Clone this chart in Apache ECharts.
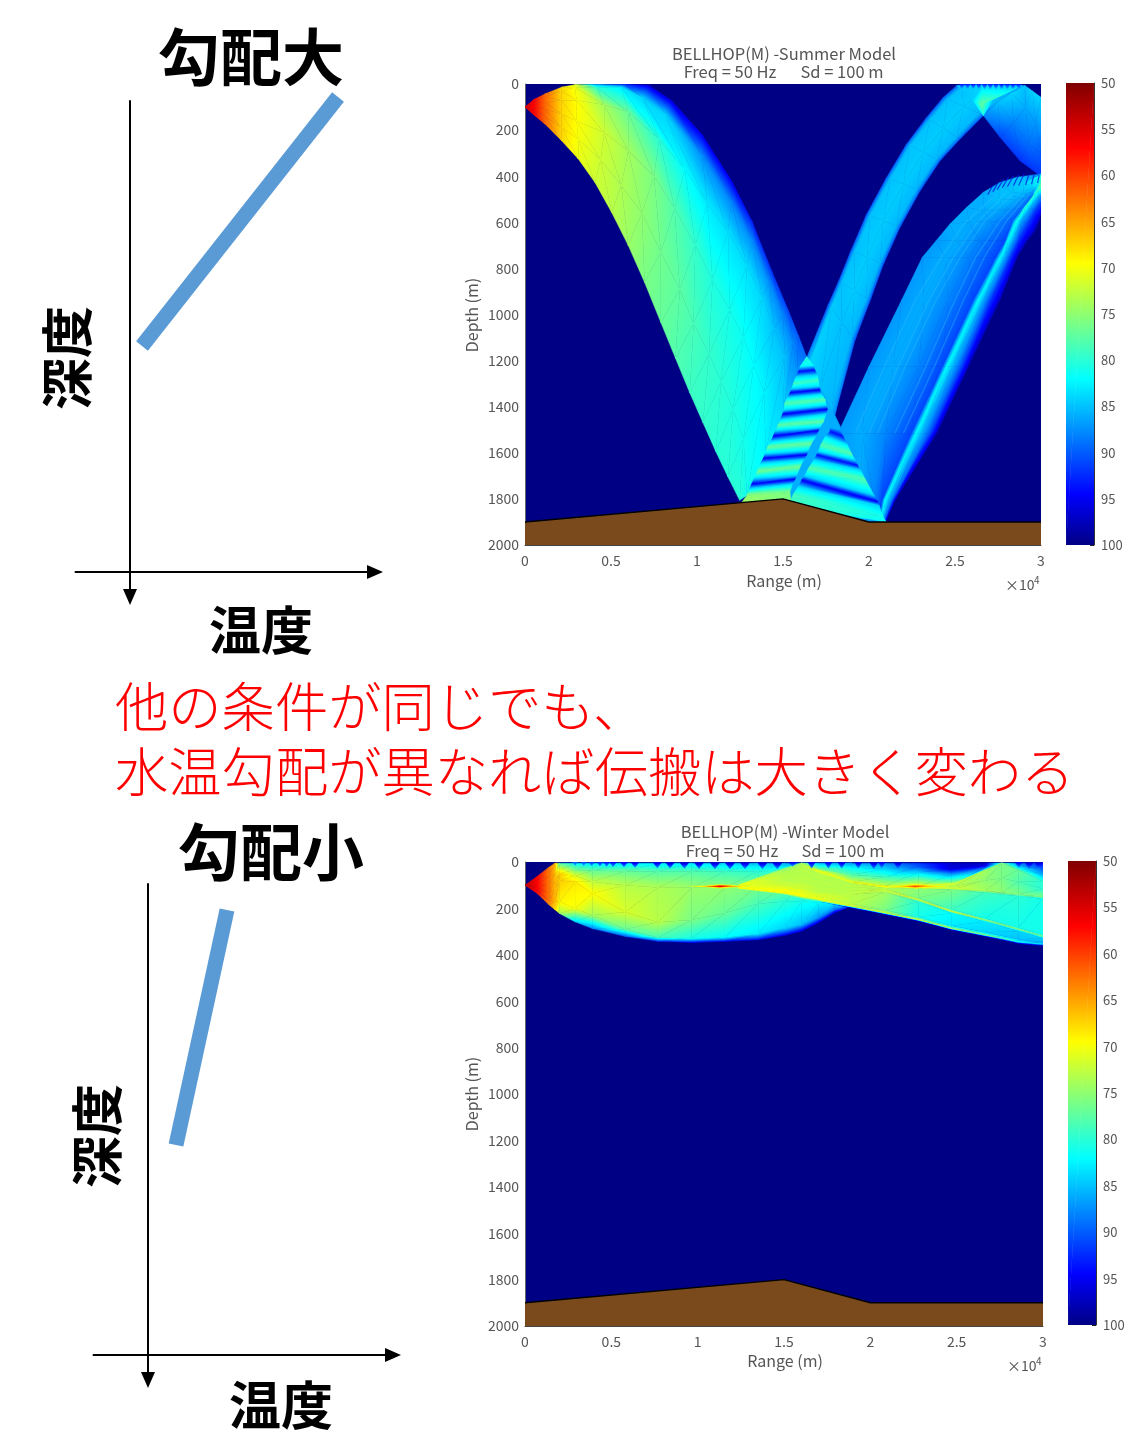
<!DOCTYPE html>
<html><head><meta charset="utf-8">
<style>html,body{margin:0;padding:0;background:#fff}#c{width:1147px;height:1451px}</style>
<script src="https://cdn.jsdelivr.net/npm/echarts@6/dist/echarts.min.js"></script>
</head><body><div id="c"></div>
<script>
// Tick labels
const depthTicks=[0,200,400,600,800,1000,1200,1400,1600,1800,2000];
const rangeLabels={0:'0',0.5:'0.5',1:'1',1.5:'1.5',2:'2',2.5:'2.5',3:'3'};
const bathyRange=[0,1.5,2,3];
const bathyDepth=[1900,1800,1900,1900];
const colorbarMesh=[[[0,50,50],[1,50,50]],[[0,100,100],[1,100,100]]];
// Transmission-loss meshes: rows of [range(1e4 m), depth(m), TL(dB)]
const summerDown=[
[[0,100,54],[0,100,54],[0,100,54],[0,100,54],[0,100,54],[0,100,54]],
[[.05,133,57],[.05,115,57],[.05,100,57],[.05,85,57],[.05,75,57],[.05,68,57]],
[[.116,174,62],[.116,140,62],[.116,110,62],[.116,80,62],[.116,55,62],[.116,43,62]],
[[.213,246,67.5],[.213,190,67.5],[.213,130,67.5],[.213,70,67.5],[.213,30,67.5],[.213,14,68]],
[[.31,325,70.5],[.31,240,70],[.3,160,69.5],[.3,70,69.5],[.29,15,70],[.29,3,71]],
[[.407,427,72],[.44,330,72],[.46,210,72],[.46,90,74],[.42,15,80],[.42,2,86]],
[[.504,557,73],[.56,440,73.5],[.6,290,74],[.6,120,77],[.56,14,83],[.58,2,92]],
[[.6,700,74.5],[.68,560,75],[.75,400,76],[.78,240,80],[.68,58,84],[.72,5,96]],
[[.695,860,76],[.79,730,76.5],[.87,540,78],[.93,370,82],[.814,130,84],[.853,72,96]],
[[.79,1035,77],[.9,890,77.5],[.99,700,79.5],[1.06,520,83],[1.03,310,87.5],[1.03,220,95]],
[[.875,1190,78],[.98,1040,78.5],[1.09,850,80.5],[1.18,640,83.5],[1.2,510,88],[1.2,419,95]],
[[.958,1340,79],[1.07,1170,79.5],[1.19,980,81],[1.29,790,83.5],[1.32,680,87.5],[1.318,593,93]],
[[1.035,1470,79.5],[1.14,1290,80],[1.27,1100,81.5],[1.38,930,84],[1.42,860,87.5],[1.434,810,92]],
[[1.11,1595,80],[1.21,1410,80.5],[1.33,1220,82],[1.45,1060,85],[1.5,1000,88],[1.531,983,91]],
[[1.18,1705,80],[1.27,1540,81],[1.39,1340,82.5],[1.51,1180,85],[1.56,1120,88],[1.59,1092,90]],
[[1.248,1806,80],[1.29,1785,81],[1.40,1600,82.5],[1.5,1430,84],[1.58,1265,87],[1.638,1187,89]]];
const summerFringeBase=[[[1.638,1183,86],[1.638,1183,86]],[[1.24,1900,86],[2.1,1900,86]]];
const summerUp=[
[[1.638,1187,88],[1.654,1212,84],[1.719,1313,85],[1.784,1415,85.5],[1.80,1440,88]],
[[1.765,954,90],[1.78,970,84.5],[1.84,1032,85],[1.90,1095,85.5],[1.919,1110,90]],
[[1.825,853,90],[1.84,862,85],[1.915,897,84.5],[1.987,931,85.5],[2.006,940,90]],
[[1.895,723,90],[1.915,729,85],[1.99,752,84.5],[2.065,775,85.5],[2.084,781,90]],
[[1.987,564,90],[2.006,570,85],[2.083,593,84.5],[2.16,616,85.5],[2.18,622,90]],
[[2.103,405,90],[2.122,411,85],[2.2,434,84.5],[2.278,457,85.5],[2.297,463,90]],
[[2.219,260,90],[2.238,267,85],[2.316,296,84.5],[2.394,326,85.5],[2.413,333,90]],
[[2.335,145,90],[2.354,154,85],[2.432,192,84.5],[2.51,230,85.5],[2.529,239,90]],
[[2.432,58,90],[2.455,66,85],[2.55,97,84.5],[2.642,129,85.5],[2.665,137,90]],
[[2.51,7,90],[2.539,13,85],[2.655,40,84.5],[2.771,65,85.5],[2.8,72,90]],
[[2.62,0,88],[2.65,0,85],[2.76,3,84.5],[2.88,6,85.5],[2.907,7,88]]];
const summerSurfaceDown=[
[[2.665,137,88],[2.75,80,85],[2.83,40,84],[2.907,7,85]],
[[2.762,231,91],[2.84,170,88],[2.91,100,86],[2.95,30,84]],
[[2.878,333,92],[2.93,260,89],[2.97,170,87],[3,58,84]],
[[3,400,92],[3,300,90],[3,190,87],[3,58,85]]];
const summerGreenPatch=[
[[2.51,7,85],[2.66,7,84],[2.89,7,85]],
[[2.6,70,84.5],[2.655,90,77],[2.72,70,84.5]],
[[2.665,137,81],[2.665,137,81],[2.665,137,81]]];
const summerRight=[
[[1.85,1892,87],[1.95,1892,86],[2.0,1892,88],[2.045,1892,91],[2.07,1892,82],[2.08,1892,85],[2.09,1892,89],[2.1,1892,95]],
[[1.85,1805,87],[1.95,1805,86],[2.03,1805,88],[2.075,1805,91],[2.093,1805,82],[2.115,1805,85.5],[2.135,1805,89],[2.151,1805,96]],
[[1.82,1515,87],[1.96,1515,86],[2.10,1515,88],[2.245,1515,91],[2.273,1515,82],[2.305,1515,85.5],[2.35,1515,90],[2.393,1515,97]],
[[2.0,1226,87],[2.14,1226,86],[2.29,1226,88],[2.425,1226,91],[2.451,1226,82],[2.485,1226,85.5],[2.53,1226,90],[2.577,1226,97]],
[[2.19,937,87],[2.32,937,86],[2.46,937,88],[2.605,937,91],[2.635,937,82],[2.665,937,86],[2.71,937,92],[2.76,937,97]],
[[2.31,752,87],[2.44,752,86],[2.58,752,88],[2.735,752,91],[2.762,752,82],[2.79,752,86],[2.825,752,92],[2.86,752,97]],
[[2.39,680,87],[2.51,680,86],[2.64,680,88],[2.79,680,91],[2.81,672,82],[2.84,672,86],[2.875,672,92],[2.91,690,97]],
[[2.471,607,86],[2.58,600,86],[2.7,595,87],[2.835,593,90],[2.859,593,81],[2.885,593,86],[2.925,610,92],[2.96,640,97]],
[[2.568,535,86],[2.67,550,86],[2.78,545,86.5],[2.89,540,89.5],[2.915,528,80],[2.94,535,86],[2.965,555,92],[2.985,600,97]],
[[2.665,470,86],[2.76,500,85],[2.86,500,86],[2.945,490,89],[2.975,463,79],[2.99,480,85],[3,510,91],[3,560,96]],
[[2.762,427,85.5],[2.83,470,85],[2.9,475,85.5],[2.955,470,87],[2.985,455,78.5],[2.995,475,84],[3,500,91],[3,545,96]],
[[2.859,405,85],[2.9,430,84],[2.94,445,84],[2.97,455,85],[2.99,450,78],[3,470,83],[3,490,90],[3,530,95]],
[[3,390,88],[3,395,82],[3,405,80],[3,420,79],[3,440,78],[3,445,83],[3,450,90],[3,470,95]]];
const summerFringeLeft=[
[[1.638,1183,80],[1.638,1183,80]],
[[1.60,1225,82],[1.675,1220,82]],
[[1.589,1248,94],[1.686,1241,94]],
[[1.575,1270,84],[1.70,1262,84]],
[[1.56,1300,79],[1.705,1285,79]],
[[1.55,1322,84],[1.712,1312,84]],
[[1.541,1339,95],[1.715,1327,95]],
[[1.525,1360,84],[1.725,1345,84]],
[[1.51,1385,78],[1.745,1370,78]],
[[1.505,1415,84],[1.752,1395,84]],
[[1.498,1432,95],[1.758,1411,95]],
[[1.485,1455,84],[1.75,1432,84]],
[[1.47,1480,77.5],[1.735,1465,77.5]],
[[1.455,1505,84],[1.715,1490,84]],
[[1.444,1527,95],[1.706,1504,95]],
[[1.43,1550,84],[1.69,1530,84]],
[[1.41,1575,77],[1.665,1560,77]],
[[1.395,1605,84],[1.645,1592,84]],
[[1.386,1624,95],[1.638,1609,95]],
[[1.37,1645,84],[1.62,1630,84]],
[[1.35,1680,76.5],[1.60,1660,76.5]],
[[1.33,1712,84],[1.58,1698,84]],
[[1.318,1735,95],[1.57,1715,95]],
[[1.305,1755,84],[1.555,1735,84]],
[[1.29,1785,75],[1.54,1770,76]],
[[1.24,1835,74],[1.55,1830,76]]];
const summerFringeRight=[
[[1.79,1440,86],[1.80,1440,86]],
[[1.775,1490,86],[1.83,1500,86]],
[[1.773,1508,94],[1.85,1529,94]],
[[1.745,1530,83],[1.875,1566,83]],
[[1.72,1565,78],[1.90,1605,78]],
[[1.705,1595,84],[1.92,1633,84]],
[[1.696,1609,94],[1.935,1655,94]],
[[1.68,1630,84],[1.95,1675,84]],
[[1.65,1665,78],[1.98,1717,78]],
[[1.625,1700,84],[2.03,1785,84]],
[[1.609,1718,95],[2.05,1812,95]],
[[1.59,1745,84],[2.06,1830,84]],
[[1.56,1780,79],[2.08,1875,81]],
[[1.53,1830,79],[2.10,1900,82]]];
const summerScallopRanges=[2.54,2.573,2.606,2.639,2.672,2.705,2.738,2.771,2.804,2.837,2.87];
const summerRipples=[[2.72,440,2.69,480],[2.75,428,2.72,468],[2.78,415,2.745,458],[2.81,405,2.775,450],[2.84,398,2.805,445],[2.87,395,2.84,440],[2.90,393,2.87,440],[2.93,392,2.91,438],[2.96,392,2.945,435],[2.99,395,2.98,430]];
const summerStreaks=[
[[1.92,1515],[2.09,1226],[2.27,937],[2.42,752],[2.55,607],[2.74,480]],
[[2.0,1515],[2.17,1226],[2.35,937],[2.49,752],[2.63,600],[2.8,470]],
[[2.05,1515],[2.21,1226],[2.39,937],[2.53,752],[2.67,598],[2.84,475]],
[[2.15,1515],[2.33,1226],[2.5,937],[2.62,752],[2.76,595],[2.9,480]],
[[2.2,1515],[2.38,1226],[2.55,937],[2.67,752],[2.8,593],[2.93,480]]];
const winterLobe=[
[[0,100,53],[0,100,53],[0,100,53],[0,100,53],[0,100,53],[0,100,53]],
[[.07,62,57],[.07,80,57],[.07,100,57],[.07,112,57],[.07,124,57],[.07,135,58]],
[[.14,22,63],[.14,60,63],[.14,95,63],[.14,130,63],[.14,165,63],[.14,185,64]],
[[.174,5,66],[.174,50,66],[.174,80,66],[.174,120,66],[.174,170,66],[.174,206,68]],
[[.2,5,78],[.2,35,70],[.2,50,67],[.2,80,67],[.2,170,69],[.2,222,74]],
[[.29,5,82],[.29,35,76],[.29,60,71],[.29,85,68.5],[.29,200,70],[.29,258,84]],
[[.39,5,83],[.39,38,77],[.39,85,72.5],[.39,135,69.5],[.39,230,74],[.39,287,88]],
[[.58,5,83],[.58,40,77],[.58,100,73],[.58,215,71.5],[.58,290,77],[.58,321,90]],
[[.77,5,83],[.77,40,78],[.77,110,73.5],[.77,260,73],[.77,325,78.5],[.77,342,92]],
[[.965,5,83],[.965,42,78],[.965,110,74.5],[.965,250,76],[.965,330,81],[.965,347,94]],
[[1.158,5,84],[1.158,42,79],[1.158,110,75],[1.158,220,77],[1.158,325,82],[1.158,342,94]],
[[1.35,5,85],[1.35,40,80],[1.35,100,76],[1.35,180,78.5],[1.35,310,83],[1.35,335,94]],
[[1.506,5,86],[1.506,38,80],[1.506,100,76],[1.506,170,80],[1.506,285,84],[1.506,316,95]],
[[1.6,5,87],[1.6,38,80],[1.6,100,76],[1.6,170,81],[1.6,270,85],[1.6,299,96]],
[[1.7,5,87],[1.7,40,82],[1.7,130,77],[1.7,175,82],[1.7,240,87],[1.7,263,97]],
[[1.795,5,87],[1.795,50,83],[1.795,140,76],[1.795,175,83],[1.795,205,89],[1.795,220,98]],
[[1.892,5,87],[1.892,80,80],[1.892,130,74],[1.892,170,81],[1.892,185,89],[1.892,191,98]]];
const winterTop=[
[[1.6,5,74],[1.6,5,74],[1.6,5,74],[1.6,5,74]],
[[1.7,5,86],[1.7,15,82],[1.7,28,77],[1.7,40,70]],
[[1.892,5,87],[1.892,25,82],[1.892,55,78],[1.892,85,72]],
[[2.085,5,88],[2.085,30,84],[2.085,65,79],[2.085,105,72]],
[[2.278,5,92],[2.278,20,90],[2.278,45,84],[2.278,105,70]],
[[2.471,5,97],[2.471,30,96],[2.471,55,86],[2.471,100,72]],
[[2.664,5,97],[2.664,15,96],[2.664,25,90],[2.664,35,78]],
[[2.761,5,76],[2.761,5,76],[2.761,5,76],[2.761,5,76]],
[[2.857,5,88],[2.857,15,86],[2.857,25,82],[2.857,35,78]],
[[3,5,94],[3,30,90],[3,55,86],[3,84,80]]];
const winterCross=[
[[1.235,100,70],[1.235,102,70],[1.235,104,70],[1.235,106,70],[1.235,108,70],[1.235,110,70],[1.235,112,70],[1.235,114,72]],
[[1.506,26,76],[1.506,35,74],[1.506,60,73],[1.506,80,73],[1.506,100,72],[1.506,122,70],[1.506,134,69],[1.506,142,79]],
[[1.6,5,74],[1.6,18,73],[1.6,45,73],[1.6,80,73],[1.6,110,72],[1.6,138,70],[1.6,148,70],[1.6,156,78]],
[[1.7,40,70],[1.7,50,73],[1.7,75,73],[1.7,100,73],[1.7,125,73],[1.7,150,71],[1.7,160,70],[1.7,168,78]],
[[1.892,85,70],[1.892,93,73],[1.892,110,73],[1.892,125,73],[1.892,140,73],[1.892,180,73],[1.892,191,72],[1.892,198,97]],
[[2.085,105,69],[2.085,113,73],[2.085,115,73],[2.085,120,72],[2.085,130,74],[2.085,208,76],[2.085,220,72],[2.085,226,97]],
[[2.278,105,67],[2.278,113,75],[2.278,155,76],[2.278,163,72],[2.278,171,80],[2.278,237,81],[2.278,249,72],[2.278,255,97]],
[[2.471,112,72],[2.471,120,76],[2.471,205,79],[2.471,213,72],[2.471,221,82],[2.471,275,83],[2.471,287,74],[2.471,293,97]],
[[2.664,125,75],[2.664,133,79],[2.664,242,81],[2.664,250,75],[2.664,258,83],[2.664,303,84],[2.664,315,76],[2.664,321,97]],
[[2.857,140,76],[2.857,148,80],[2.857,282,81],[2.857,290,76],[2.857,298,84],[2.857,333,85],[2.857,345,82],[2.857,351,96]],
[[3,150,76],[3,158,81],[3,313,81],[3,321,77],[3,329,84],[3,347,86],[3,355,84],[3,361,96]]];
const winterPeak2=[
[[2.3,105,71],[2.3,108,71],[2.3,112,71]],
[[2.49,91,72],[2.49,103,73],[2.49,115,72]],
[[2.664,35,74],[2.664,80,75],[2.664,125,74]],
[[2.761,5,76],[2.761,70,76],[2.761,132,75]],
[[2.857,35,77],[2.857,85,78],[2.857,140,76]],
[[3,84,80],[3,115,80],[3,150,76]]];
const winterSpot1=[
[[.95,105,74],[.95,105,74],[.95,105,74]],
[[1.05,101,73],[1.05,105,66],[1.05,109,73]],
[[1.13,97,72],[1.13,105,54],[1.13,113,72]],
[[1.2,100,72],[1.2,105,64],[1.2,110,72]],
[[1.3,105,72],[1.3,105,72],[1.3,105,72]]];
const winterSpot2=[
[[2.1,105,72],[2.1,105,72],[2.1,105,72]],
[[2.2,101,70],[2.2,105,66],[2.2,109,70]],
[[2.26,97,70],[2.26,105,60],[2.26,113,70]],
[[2.33,100,70],[2.33,105,66],[2.33,110,70]],
[[2.45,105,72],[2.45,105,72],[2.45,105,72]]];
// winter surface dips: range, half width, depth, TL at surface
const winterScallops=[[.29,.014,14,90],[.34,.015,15,91],[.386,.016,16,92],[.434,.017,18,93],[.473,.018,19,94],[.51,.02,20,95],[.573,.022,22,96],[.637,.024,24,97],[.766,.026,26,97],[.84,.027,27,98],[.923,.028,28,98],[1.008,.029,29,98],[1.1,.03,30,98],[1.187,.03,30,98],[1.274,.03,30,98],[1.375,.03,30,98],[1.461,.03,30,98],[1.55,.025,18,96],[1.66,.022,27,96],[1.757,.022,27,96],[1.834,.022,27,97],[1.93,.022,27,97],[2.02,.024,30,98],[2.066,.02,26,96],[2.16,.024,30,98],[2.86,.022,24,96],[2.92,.024,30,98],[2.975,.022,32,98]];
// Schematic profiles (temperature, depth, in arbitrary units from the axes crossing)
const largeGradTemp=[12,208], largeGradDepth=[226,475];
const smallGradTemp=[28,79], smallGradDepth=[210,445];

const JP='"Noto Sans CJK JP","Noto Sans",sans-serif';
const jet=[[100,[0,0,133]],[94.5,[0,0,255]],[82,[0,255,255]],[69.5,[255,255,0]],[57,[255,0,0]],[50,[128,0,0]]];
function col(t){
  t=Math.max(50,Math.min(100,t));
  for(let i=0;i<jet.length-1;i++){const a=jet[i],b=jet[i+1];
    if(t<=a[0]&&t>=b[0]){const f=(a[0]-t)/(a[0]-b[0]);
      const c=a[1].map((v,k)=>Math.round(v+(b[1][k]-v)*f));return 'rgb('+c.join(',')+')';}}
  return 'rgb(0,0,133)';
}
function meshTris(rows){const out=[];
  for(let i=0;i<rows.length-1;i++){const A=rows[i],B=rows[i+1];
    for(let j=0;j<A.length-1;j++){
      out.push([...A[j],...A[j+1],...B[j]]);
      out.push([...A[j+1],...B[j+1],...B[j]]);
    }}
  return out;}
function renderTri(params,api){
  const P=[0,3,6].map(i=>api.coord([api.value(i),api.value(i+1)]));
  const T=[api.value(2),api.value(5),api.value(8)];
  const [x1,y1]=P[0],[x2,y2]=P[1],[x3,y3]=P[2];
  const det=(x2-x1)*(y3-y1)-(x3-x1)*(y2-y1);
  if(Math.abs(det)<0.01) return;
  const a=((T[1]-T[0])*(y3-y1)-(T[2]-T[0])*(y2-y1))/det;
  const b=((T[2]-T[0])*(x2-x1)-(T[1]-T[0])*(x3-x1))/det;
  const g2=a*a+b*b; let fill;
  const tmin=Math.min(...T),tmax=Math.max(...T);
  if(tmax-tmin<1e-3||g2<1e-9){fill=col(T[0]);}
  else{
    const sx=x1+a/g2*(tmin-T[0]),sy=y1+b/g2*(tmin-T[0]);
    const ex=x1+a/g2*(tmax-T[0]),ey=y1+b/g2*(tmax-T[0]);
    const ts=[tmin,tmax,...jet.map(q=>q[0]).filter(q=>q>tmin&&q<tmax)].sort((p,q)=>p-q);
    fill=new echarts.graphic.LinearGradient(sx,sy,ex,ey,ts.map(t=>({offset:(t-tmin)/(tmax-tmin),color:col(t)})),true);
  }
  return {type:'polygon',shape:{points:P},style:{fill:fill,stroke:fill,lineWidth:0.5},silent:true};
}
function fieldSeries(i,data){return {type:'custom',xAxisIndex:i,yAxisIndex:i,renderItem:renderTri,data:data,animation:false,progressive:0,silent:true,clip:true,z:2};}
function bathy(i){return {type:'line',xAxisIndex:i,yAxisIndex:i,data:bathyRange.map((r,k)=>[r,bathyDepth[k]]),symbol:'none',lineStyle:{color:'#000',width:1.4},areaStyle:{color:'#7b4a1c',origin:'end',opacity:1},z:5,animation:false,silent:true};}
function ripples(i,list){return {type:'lines',coordinateSystem:'cartesian2d',xAxisIndex:i,yAxisIndex:i,data:list.map(q=>({coords:[[q[0],q[1]],[q[2],q[3]]]})),lineStyle:{color:'#0020e0',width:1.2,opacity:.8},z:3,silent:true,animation:false};}
function streaks(i,list){return {type:'lines',polyline:true,coordinateSystem:'cartesian2d',xAxisIndex:i,yAxisIndex:i,data:list.map(q=>({coords:q})),lineStyle:{color:'#30c0ff',width:1.4,opacity:.35},z:2,silent:true,animation:false};}
const grey='#555';
const hAxis=(i)=>({gridIndex:i,type:'value',min:0,max:3,interval:.5,
  axisLine:{onZero:false,lineStyle:{color:'#444',width:1}},axisTick:{show:false},splitLine:{show:false},
  axisLabel:{color:grey,fontSize:14,fontFamily:JP,margin:9,formatter:v=>rangeLabels[v]}});
const vAxis=(i)=>({gridIndex:i,type:'value',min:0,max:2000,interval:200,inverse:true,
  axisLine:{onZero:false,lineStyle:{color:'#666',width:1}},axisTick:{show:false},splitLine:{show:false},
  axisLabel:{color:grey,fontSize:14,fontFamily:JP,margin:6,formatter:v=>depthTicks.includes(v)?String(v):''}});
const cbX=(i)=>({gridIndex:i,type:'value',min:0,max:1,show:false});
const cbY=(i)=>({gridIndex:i,type:'value',min:50,max:100,interval:5,inverse:true,position:'right',
  axisLine:{onZero:false,lineStyle:{color:'#333',width:1}},axisTick:{inside:true,length:4,lineStyle:{color:'#222'}},splitLine:{show:false},
  axisLabel:{color:grey,fontSize:13,fontFamily:JP,margin:7}});
const schemX=(i)=>({gridIndex:i,type:'value',min:-54.5,max:245,axisLine:{show:true,onZero:true,symbol:['none','triangle'],symbolSize:[14,16],lineStyle:{color:'#000',width:2}},axisTick:{show:false},axisLabel:{show:false},splitLine:{show:false}});
const schemY=(i)=>({gridIndex:i,type:'value',min:-25,max:471,axisLine:{show:true,onZero:true,symbol:['triangle','none'],symbolSize:[14,16],lineStyle:{color:'#000',width:2}},axisTick:{show:false},axisLabel:{show:false},splitLine:{show:false}});
const profile=(i,xs,ys)=>({type:'line',xAxisIndex:i,yAxisIndex:i,data:xs.map((x,k)=>[x,ys[k]]),symbol:'none',clip:false,lineStyle:{color:'#5b9bd5',width:15,cap:'butt'},animation:false,silent:true,z:2});

function txt(x,y,s,size,opt){opt=opt||{};return {type:'text',x:x,y:y,rotation:opt.rot||0,silent:true,style:{text:s,fontSize:size,fontFamily:opt.font||JP,fontWeight:opt.w||'normal',fill:opt.c||grey,textAlign:opt.a||'center',textVerticalAlign:'middle',textBaseline:'middle'}};}
const sup=(x,y)=>[txt(x,y,'×10',14,{a:'left'}),txt(x+29,y-5,'4',10,{a:'left'})];

const summerData=[].concat(meshTris(summerDown),meshTris(summerFringeBase),meshTris(summerUp),meshTris(summerSurfaceDown),meshTris(summerRight),meshTris(summerGreenPatch),
  meshTris(summerFringeLeft),meshTris(summerFringeRight),summerScallopRanges.map(r=>[r-.014,0,94,r+.014,0,94,r,24,84]));
const winterData=[].concat(meshTris(winterLobe),meshTris(winterTop),meshTris(winterCross),meshTris(winterPeak2),meshTris(winterSpot1),meshTris(winterSpot2),
  winterScallops.map(q=>[q[0]-q[1],0,q[3],q[0]+q[1],0,q[3],q[0],q[2],87]));

const chart=echarts.init(document.getElementById('c'),null,{renderer:'canvas'});
chart.setOption({
  animation:false,backgroundColor:'#fff',
  grid:[
    {left:525,top:84,width:516,height:461,show:true,backgroundColor:'#000085',borderWidth:0},
    {left:1066,top:83,width:28,height:462},
    {left:525,top:862,width:518,height:464,show:true,backgroundColor:'#000085',borderWidth:0},
    {left:1068,top:861,width:28,height:464},
    {left:75.5,top:101,width:299.5,height:496},
    {left:93.5,top:884,width:299.5,height:496}
  ],
  xAxis:[hAxis(0),cbX(1),hAxis(2),cbX(3),schemX(4),schemX(5)],
  yAxis:[vAxis(0),cbY(1),vAxis(2),cbY(3),schemY(4),schemY(5)],
  series:[
    fieldSeries(0,summerData),streaks(0,summerStreaks),ripples(0,summerRipples),bathy(0),
    fieldSeries(1,meshTris(colorbarMesh)),
    fieldSeries(2,winterData),bathy(2),
    fieldSeries(3,meshTris(colorbarMesh)),
    profile(4,largeGradTemp,largeGradDepth),
    profile(5,smallGradTemp,smallGradDepth)
  ],
  graphic:{elements:[
    txt(784,54,'BELLHOP(M) -Summer Model',16.5),
    txt(730,72,'Freq = 50 Hz',16.5),
    txt(842,72,'Sd = 100 m',16.5),
    txt(784,581,'Range (m)',16),
    txt(472,315,'Depth (m)',16,{rot:Math.PI/2}),
    ...sup(1005,585),
    txt(785,832,'BELLHOP(M) -Winter Model',16.5),
    txt(732,851,'Freq = 50 Hz',16.5),
    txt(843,851,'Sd = 100 m',16.5),
    txt(785,1361,'Range (m)',16),
    txt(472,1094,'Depth (m)',16,{rot:Math.PI/2}),
    ...sup(1007,1366),
    txt(251,57,'勾配大',62,{w:600,c:'#000'}),
    txt(67,358,'深度',52,{w:600,c:'#000',rot:Math.PI/2}),
    txt(261,630,'温度',52,{w:600,c:'#000'}),
    txt(271,852,'勾配小',62,{w:600,c:'#000'}),
    txt(97,1136,'深度',52,{w:600,c:'#000',rot:Math.PI/2}),
    txt(281,1405,'温度',52,{w:600,c:'#000'}),
    txt(115,707,'他の条件が同じでも、',53.3,{w:300,c:'#ff0000',a:'left'}),
    txt(115,772,'水温勾配が異なれば伝搬は大きく変わる',53.3,{w:300,c:'#ff0000',a:'left'})
  ]}
});
</script></body></html>
